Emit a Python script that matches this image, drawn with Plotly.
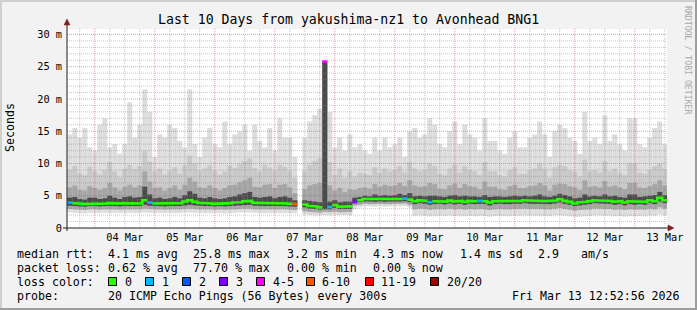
import plotly.graph_objects as go
import pandas as pd

# ---------------- data (2-hour bins starting 2026-03-03 13:00) ----------------
title_text = "Last 10 Days from yakushima-nz1 to Avonhead BNG1"
x_tick_labels = ["04 Mar", "05 Mar", "06 Mar", "07 Mar", "08 Mar",
                 "09 Mar", "10 Mar", "11 Mar", "12 Mar", "13 Mar"]
y_tick_vals = [0, 5, 10, 15, 20, 25, 30]
y_tick_text = ["0", "5 m", "10 m", "15 m", "20 m", "25 m", "30 m"]

median = [3.95, 3.85, 3.75, 3.7, 3.8, 3.8, 3.75, 3.8, 3.85, 3.8, 3.75, 3.85, 3.8, 3.85, 3.8, 4.3,
          3.95, 3.8, 3.8, 3.75, 3.8, 3.8, 3.85, 4.1, 4.3, 4.05, 3.9, 3.85, 3.8, 3.75, 3.8, 3.75,
          3.85, 3.95, 4.0, 4.15, 4.2, 3.9, 3.85, 3.85, 3.8, 3.85, 3.8, 3.8, 3.75, 3.7,
          None,
          3.65, 3.45, 3.35, 3.2, 25.8, 3.25, 3.55, 3.3, 3.35, 3.35,
          4.05, 4.3, 4.5, 4.45, 4.4, 4.45, 4.4, 4.45, 4.5, 4.5, 4.55, 4.4,
          4.15, 4.3, 4.2, 4.0, 4.15, 4.2, 4.1, 4.25, 4.1, 4.2, 4.05, 4.2, 4.15, 4.2, 4.15, 3.95,
          4.15, 4.2, 4.15, 4.15, 4.2, 4.2, 4.3, 4.2, 4.2, 4.2, 4.15, 4.15, 4.25, 4.45, 4.2, 4.05,
          3.8, 3.95, 4.05, 4.15, 4.3, 4.25, 4.2, 4.2, 4.05, 4.15, 3.95, 4.15, 4.05, 4.15, 4.05,
          4.3, 4.15, 4.7, 4.3]

hi1 = [14.5, 15.5, 14, 15.5, 12.5, 12, 16, 17, 12.5, 13, 11.5, 13, 19.5, 14, 16, 21.5,
       18, 11, 14.5, 14, 16, 15.5, 13.5, 12.5, 21.5, 13, 11, 14, 15.5, 13, 12.5, 16.5,
       13, 14.5, 15, 16, 12, 16, 13.5, 12.5, 15.5, 12, 17, 14, 14, 11,
       None,
       14, 16.5, 17.5, 18.5, 25.8, 18, 12.5, 14, 12, 14.5,
       12.5, 13, 12, 11.5, 14, 12, 14, 12.5, 13, 14, 11, 15,
       15.5, 14, 14.5, 17, 16, 13, 12.5, 15, 16.5, 13, 16, 14.5, 14, 12, 17, 13.5,
       13.5, 12, 11.5, 14, 15, 12.5, 12.5, 14, 14.5, 16.5, 14.5, 11, 15, 16, 15.5, 14,
       13.5, 11.5, 18, 13.5, 14, 13, 17.5, 13.5, 14.5, 13, 12, 17, 17, 13, 12.5,
       14, 15.5, 16.5, 13]

hi2 = [9.0, 9.6, 8.5, 8.2, 9.5, 8.8, 8.3, 9.0, 10.2, 8.8, 7.9, 9.2, 9.8, 9.1, 9.6, 12.0,
       10.3, 8.8, 9.2, 8.3, 8.9, 9.4, 8.4, 9.7, 11.2, 10.0, 8.9, 9.2, 9.7, 8.9, 8.3, 8.8,
       9.7, 9.3, 9.9, 10.4, 10.8, 9.3, 8.8, 9.8, 9.4, 8.9, 9.8, 9.5, 8.9, 7.8,
       None,
       8.8, 9.8, 10.4, 10.8, 25.8, 10.2, 8.2, 9.2, 7.8, 8.8,
       8.0, 8.6, 8.4, 8.2, 9.4, 8.6, 9.2, 8.8, 9.0, 9.6, 8.6, 10.2,
       9.2, 8.8, 9.0, 10.0, 9.6, 8.4, 8.2, 9.2, 9.8, 8.6, 9.6, 9.0, 8.8, 8.2, 10.2, 8.8,
       8.8, 8.2, 8.0, 9.0, 9.4, 8.4, 8.4, 9.0, 9.2, 10.0, 9.2, 7.8, 9.4, 9.8, 9.6, 9.0,
       8.8, 8.0, 10.6, 8.8, 9.0, 8.6, 10.4, 8.8, 9.2, 8.6, 8.2, 10.0, 10.0, 8.6, 8.4,
       9.0, 9.6, 10.0, 9.2]

hi3 = [6.3, 6.6, 5.9, 5.8, 6.5, 6.2, 5.9, 6.2, 7.0, 6.3, 5.8, 6.4, 6.7, 6.3, 6.6, 8.8,
       7.2, 6.2, 6.3, 5.8, 6.2, 6.6, 5.9, 6.7, 7.8, 7.2, 6.3, 6.2, 6.6, 6.2, 5.8, 6.2,
       6.6, 6.7, 7.1, 7.4, 7.8, 6.4, 6.3, 6.7, 6.8, 6.2, 6.7, 6.8, 6.3, 5.4,
       None,
       6.0, 6.6, 6.8, 7.0, 25.8, 6.6, 5.8, 6.2, 5.6, 6.0,
       5.9, 6.2, 6.3, 6.1, 6.8, 6.4, 6.7, 6.5, 6.6, 7.0, 6.5, 7.4,
       6.6, 6.4, 6.5, 7.0, 6.8, 6.1, 6.0, 6.6, 6.9, 6.2, 6.8, 6.5, 6.4, 6.0, 7.2, 6.4,
       6.4, 6.0, 5.9, 6.5, 6.7, 6.2, 6.2, 6.5, 6.6, 7.0, 6.6, 5.8, 6.7, 6.9, 6.8, 6.5,
       6.3, 5.9, 7.4, 6.4, 6.5, 6.3, 7.3, 6.4, 6.6, 6.3, 6.0, 7.0, 7.0, 6.3, 6.2,
       6.5, 6.8, 7.4, 6.6]

hi4 = [4.7, 4.8, 4.5, 4.4, 4.7, 4.7, 4.5, 4.6, 5.0, 4.7, 4.5, 4.8, 4.9, 4.7, 4.8, 6.4,
       5.2, 4.6, 4.7, 4.5, 4.6, 4.8, 4.6, 5.1, 5.7, 5.3, 4.7, 4.6, 4.8, 4.6, 4.5, 4.6,
       4.8, 4.9, 5.2, 5.4, 5.6, 4.8, 4.7, 4.8, 4.9, 4.6, 4.8, 4.9, 4.7, 4.3,
       None,
       4.3, 4.2, 4.1, 4.0, 25.8, 4.1, 4.3, 4.0, 4.1, 4.1,
       4.7, 4.8, 5.0, 4.9, 5.2, 5.0, 5.1, 5.0, 5.1, 5.3, 5.1, 5.4,
       4.9, 5.0, 4.9, 5.0, 5.0, 4.9, 4.8, 5.0, 5.1, 4.9, 5.0, 4.9, 4.9, 4.8, 5.1, 4.8,
       4.9, 4.9, 4.8, 4.9, 5.0, 4.9, 5.0, 4.9, 5.0, 5.2, 4.9, 4.8, 5.0, 5.3, 5.1, 4.9,
       4.6, 4.7, 5.2, 4.9, 5.0, 4.9, 5.2, 4.9, 5.0, 4.8, 4.7, 5.2, 5.2, 4.8, 4.9,
       5.0, 5.1, 5.6, 5.1]

lo3 = [3.45, 3.4, 3.35, 3.3, 3.4, 3.4, 3.35, 3.4, 3.4, 3.4, 3.35, 3.4, 3.4, 3.4, 3.4, 3.6,
       3.45, 3.4, 3.4, 3.35, 3.4, 3.4, 3.4, 3.5, 3.6, 3.5, 3.45, 3.4, 3.4, 3.35, 3.4, 3.35,
       3.4, 3.45, 3.5, 3.55, 3.6, 3.45, 3.4, 3.4, 3.4, 3.4, 3.4, 3.4, 3.35, 3.3,
       None,
       3.2, 3.0, 2.95, 2.85, 2.9, 2.9, 3.1, 2.95, 2.95, 2.95,
       3.8, 4.0, 4.1, 4.1, 4.05, 4.1, 4.05, 4.1, 4.1, 4.1, 4.15, 4.0,
       3.7, 3.85, 3.75, 3.6, 3.7, 3.75, 3.65, 3.8, 3.65, 3.75, 3.6, 3.75, 3.7, 3.75, 3.7, 3.5,
       3.7, 3.75, 3.7, 3.7, 3.75, 3.75, 3.85, 3.75, 3.75, 3.75, 3.7, 3.7, 3.8, 3.95, 3.75, 3.6,
       3.4, 3.5, 3.6, 3.7, 3.85, 3.8, 3.75, 3.75, 3.6, 3.7, 3.5, 3.7, 3.6, 3.7, 3.6,
       3.85, 3.7, 4.1, 3.85]

lo2 = [2.95, 2.9, 2.85, 2.8, 2.9, 2.9, 2.85, 2.9, 2.9, 2.9, 2.85, 2.9, 2.9, 2.9, 2.9, 3.0,
       2.95, 2.9, 2.9, 2.85, 2.9, 2.9, 2.9, 2.95, 3.0, 2.95, 2.9, 2.9, 2.9, 2.85, 2.9, 2.85,
       2.9, 2.9, 2.95, 3.0, 3.0, 2.9, 2.9, 2.9, 2.9, 2.9, 2.9, 2.9, 2.85, 2.8,
       None,
       2.6, 2.5, 2.45, 2.4, 2.5, 2.45, 2.55, 2.45, 2.45, 2.5,
       3.5, 3.6, 3.75, 3.7, 3.7, 3.75, 3.7, 3.7, 3.75, 3.75, 3.8, 3.6,
       2.9, 3.0, 2.95, 2.85, 2.9, 2.95, 2.9, 3.0, 2.9, 2.95, 2.85, 2.95, 2.9, 2.95, 2.9, 2.8,
       2.9, 2.95, 2.9, 2.9, 2.95, 2.95, 3.0, 2.95, 2.95, 2.95, 2.9, 2.9, 3.0, 3.1, 2.95, 2.85,
       2.7, 2.8, 2.85, 2.9, 3.0, 3.0, 2.95, 2.95, 2.85, 2.9, 2.8, 2.9, 2.85, 2.9, 2.85,
       3.0, 2.9, 3.2, 3.0]

lo1 = [2.4, 2.35, 2.3, 2.25, 2.35, 2.3, 2.3, 2.35, 2.3, 2.35, 2.3, 2.3, 2.35, 2.3, 2.35, 2.4,
       2.35, 2.3, 2.3, 2.3, 2.35, 2.3, 2.3, 2.4, 2.4, 2.35, 2.35, 2.3, 2.3, 2.3, 2.3, 2.25,
       2.3, 2.35, 2.4, 2.4, 2.4, 2.35, 2.3, 2.3, 2.3, 2.3, 2.3, 2.3, 2.3, 2.25,
       None,
       2.1, 2.0, 1.95, 1.95, 2.0, 1.95, 2.05, 2.0, 2.0, 2.0,
       2.9, 3.2, 3.35, 3.35, 3.3, 3.35, 3.3, 3.35, 3.35, 3.35, 3.4, 3.2,
       1.9, 1.95, 1.9, 1.8, 1.85, 1.9, 1.85, 1.95, 1.85, 1.9, 1.8, 1.9, 1.85, 1.9, 1.85, 1.75,
       1.85, 1.9, 1.85, 1.85, 1.9, 1.9, 1.95, 1.9, 1.9, 1.9, 1.85, 1.85, 1.95, 2.0, 1.9, 1.8,
       1.7, 1.75, 1.8, 1.85, 1.95, 1.95, 1.9, 1.9, 1.8, 1.85, 1.75, 1.85, 1.8, 1.85, 1.8,
       1.95, 1.9, 2.1, 1.95]

# bins with packet loss (index into the bins) and lost pings out of 20
loss_idx = [0, 16, 45, 51, 52, 57, 67, 72, 82]
loss_cnt = [1, 1, 7, 5, 1, 3, 1, 1, 1]

loss_lo = [0, 1, 2, 3, 4, 6, 11, 20]
loss_hi = [0, 1, 2, 3, 5, 10, 19, 20]
loss_lbl = ["0", "1", "2", "3", "4-5", "6-10", "11-19", "20/20"]
loss_col = ["#26ff00", "#00b8ff", "#0059ff", "#7e00ff", "#ff00ff", "#ff5500", "#ff0000", "#a00000"]

stat_row1 = ["median rtt:", "4.1 ms avg", "25.8 ms max", "3.2 ms min", "4.3 ms now",
             "1.4 ms sd", "2.9", "am/s"]
stat_row2 = ["packet loss:", "0.62 % avg", "77.70 % max", "0.00 % min", "0.00 % now"]
stat_row3 = "loss color:"
probe_label = "probe:"
probe_text = "20 ICMP Echo Pings (56 Bytes) every 300s"
stamp_text = "Fri Mar 13 12:52:56 2026"
side_text = "RRDTOOL / TOBI OETIKER"

# ---------------- geometry ----------------
W, H = 697, 310
L, T, PW, PH = 67, 28, 600, 200
FONT = "DejaVu Sans Mono"
row1_x = [16, 107.3, 192.7, 286, 372.3, 459, 537.3, 580]
row2_x = [16, 107.3, 192.7, 286.7, 372.3]


def px(x):
    return (x - L) / PW


def py(y):
    return (T + PH - y) / PH


def nb(s):
    return s.replace(" ", "\u00a0")


t0 = pd.Timestamp("2026-03-03 13:00:00")
n = len(median)
starts = [t0 + pd.Timedelta(hours=2 * k) for k in range(n)]
ends = [s + pd.Timedelta(hours=2) for s in starts]
centers = [s + pd.Timedelta(hours=1) for s in starts]
loss = [0] * n
for i, c in zip(loss_idx, loss_cnt):
    loss[i] = c

fig = go.Figure()


def band(lo, hi, color):
    h = [None if (a is None or b is None) else b - a for a, b in zip(lo, hi)]
    fig.add_trace(go.Bar(x=centers, y=h, base=lo, width=2 * 3600 * 1000,
                         marker=dict(color=color, line=dict(width=0)),
                         hoverinfo="skip", showlegend=False))


band(lo1, hi1, "#dddddd")
band(lo2, hi2, "#c9c9c9")
band(lo2, hi3, "#a6a6a6")
band(lo3, hi4, "#4a4a4a")

# median line coloured by loss class (step line)
for lo_c, hi_c, col in zip(loss_lo, loss_hi, loss_col):
    xs, ys = [], []
    for k in range(n):
        m = median[k]
        ok = m is not None and lo_c <= loss[k] <= hi_c
        xs += [starts[k], ends[k]]
        ys += [m, m] if ok else [None, None]
    if any(v is not None for v in ys):
        fig.add_trace(go.Scatter(x=xs, y=ys, mode="lines",
                                 line=dict(color=col, width=2.6, shape="linear"),
                                 connectgaps=False, hoverinfo="skip", showlegend=False))

x_start = pd.Timestamp("2026-03-03 12:52:56")
x_end = pd.Timestamp("2026-03-13 12:52:56")
y_max = 31

# grid (drawn above data, like rrdtool)
shapes = []
minor_col = "rgba(143,143,143,0.5)"
major_col = "rgba(222,79,79,0.55)"
t = pd.Timestamp("2026-03-03 18:00:00")
while t < x_end:
    major = t.hour == 0
    shapes.append(dict(type="line", xref="x", yref="paper", x0=t, x1=t, y0=0, y1=1,
                       line=dict(color=major_col if major else minor_col, width=1, dash="1px,1px"),
                       layer="above"))
    t += pd.Timedelta(hours=6)
for v in range(1, y_max + 1):
    major = v % 5 == 0
    shapes.append(dict(type="line", xref="paper", yref="y", x0=0, x1=1, y0=v, y1=v,
                       line=dict(color=major_col if major else minor_col, width=1, dash="1px,1px"),
                       layer="above"))

# axes lines + arrows
axis_col = "#1f1f1f"
arrow_col = "#7f1f1f"
shapes.append(dict(type="line", xref="paper", yref="paper", x0=px(63), x1=px(669), y0=py(228), y1=py(228),
                   line=dict(color=axis_col, width=1), layer="above"))
shapes.append(dict(type="line", xref="paper", yref="paper", x0=px(67), x1=px(67), y0=py(231), y1=py(24),
                   line=dict(color=axis_col, width=1), layer="above"))
shapes.append(dict(type="path", xref="paper", yref="paper",
                   path=f"M {px(668)},{py(225)} L {px(674)},{py(228)} L {px(668)},{py(231)} Z",
                   fillcolor=arrow_col, line=dict(color=arrow_col, width=0.5), layer="above"))
shapes.append(dict(type="path", xref="paper", yref="paper",
                   path=f"M {px(64)},{py(25)} L {px(67)},{py(19)} L {px(70)},{py(25)} Z",
                   fillcolor=arrow_col, line=dict(color=arrow_col, width=0.5), layer="above"))

# frame shading
shapes.append(dict(type="rect", xref="paper", yref="paper", x0=px(0), x1=px(W), y0=py(0), y1=py(2),
                   fillcolor="#cfcfcf", line=dict(width=0), layer="below"))
shapes.append(dict(type="rect", xref="paper", yref="paper", x0=px(0), x1=px(2), y0=py(0), y1=py(H),
                   fillcolor="#cfcfcf", line=dict(width=0), layer="below"))
shapes.append(dict(type="rect", xref="paper", yref="paper", x0=px(0), x1=px(W), y0=py(H - 2), y1=py(H),
                   fillcolor="#9e9e9e", line=dict(width=0), layer="below"))
shapes.append(dict(type="rect", xref="paper", yref="paper", x0=px(W - 2), x1=px(W), y0=py(0), y1=py(H),
                   fillcolor="#9e9e9e", line=dict(width=0), layer="below"))

# legend swatches
sw_left = [108.5, 145.5, 182.5, 219.5, 256.5, 306.5, 365.5, 430.5]
lbl_left = [122.5, 159.5, 196.5, 233.5, 270.5, 319.5, 378.5, 444.5]
for xl, col in zip(sw_left, loss_col):
    shapes.append(dict(type="rect", xref="paper", yref="paper", x0=px(xl), x1=px(xl + 8),
                       y0=py(277.5), y1=py(285.5), fillcolor=col,
                       line=dict(color="#000000", width=1), layer="above"))

ann = []


def text_at(txt, x, y, size=11.6, anchor="left", color="#000", angle=0):
    ann.append(dict(text=nb(txt), x=px(x), y=py(y), xref="paper", yref="paper",
                    showarrow=False, xanchor=anchor, yanchor="middle", textangle=angle,
                    font=dict(family=FONT, size=size, color=color)))


text_at(title_text, 348, 19, size=13.2, anchor="center")
text_at("Seconds", 10, 128, anchor="center", angle=-90)
text_at(side_text, 688, 60, size=8.2, anchor="center", color="#a8a8a8", angle=90)
for txt, xx in zip(stat_row1, row1_x):
    text_at(txt, xx - 1.5, 254.3)
for txt, xx in zip(stat_row2, row2_x):
    text_at(txt, xx - 1.5, 268.3)
text_at(stat_row3, 14.5, 282.3)
text_at(probe_label, 14.5, 296.3)
text_at(probe_text, 105.8, 296.3)
text_at(stamp_text, 682, 296.3, anchor="right")
for xl, lbl in zip(lbl_left, loss_lbl):
    text_at(lbl, xl, 282.3)

label_days = [pd.Timestamp(f"2026-03-{d:02d} 12:00:00") for d in range(4, 14)]

fig.update_layout(
    width=W, height=H,
    margin=dict(l=L, r=W - L - PW, t=T, b=H - T - PH, pad=0),
    paper_bgcolor="#f2f2f2", plot_bgcolor="#ffffff",
    barmode="overlay", showlegend=False,
    shapes=shapes, annotations=ann,
    xaxis=dict(type="date", range=[x_start, x_end], tickmode="array",
               tickvals=label_days, ticktext=x_tick_labels, showgrid=False,
               zeroline=False, showline=False, ticks="", fixedrange=True,
               tickfont=dict(family=FONT, size=10.3, color="#000"), ticklabelstandoff=2),
    yaxis=dict(range=[0, y_max], tickmode="array", tickvals=y_tick_vals,
               ticktext=y_tick_text, showgrid=False, zeroline=False, showline=False,
               ticks="", tickfont=dict(family=FONT, size=10.3, color="#000"),
               ticklabelstandoff=4),
)

fig.write_html("out.html")
